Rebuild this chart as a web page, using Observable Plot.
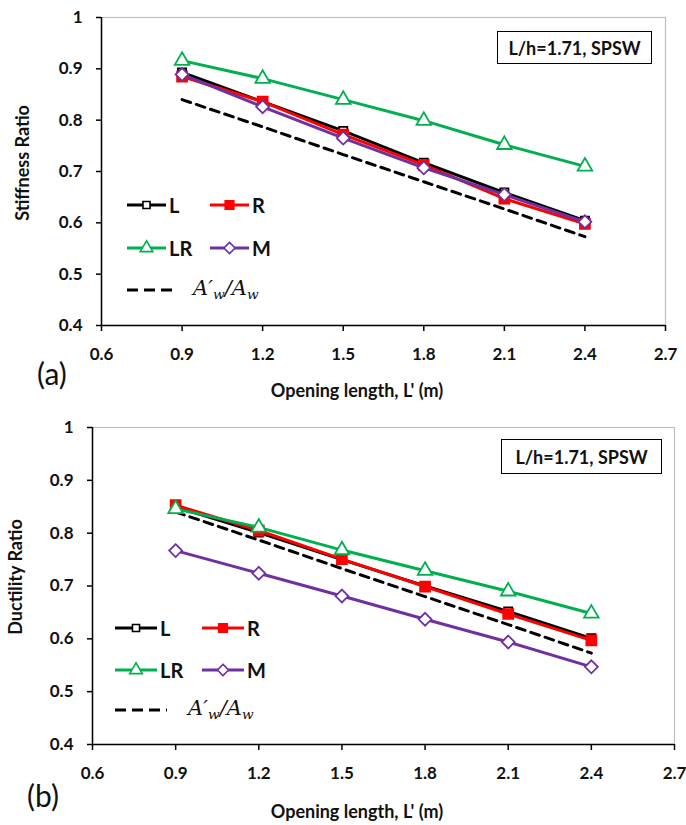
<!DOCTYPE html>
<html>
<head>
<meta charset="utf-8">
<script src="https://cdn.jsdelivr.net/npm/d3@7"></script>
<script src="https://cdn.jsdelivr.net/npm/@observablehq/plot@0.6"></script>
<style>
  body { margin: 0; background: #fff; }
  #root { position: relative; width: 686px; height: 825px; overflow: hidden; font-family: Lato, "Open Sans", sans-serif; }
  .abs { position: absolute; }
  .svgwrap { position: absolute; left: 0; }
  .title { font-weight: bold; font-size: 18px; color: #111; white-space: nowrap; line-height: 1; }
  .panel { font-size: 30px; color: #111; line-height: 1; }
  .box { border: 1.5px solid #000; background: #fff; font-weight: bold; font-size: 18px; display: flex; align-items: center; justify-content: center; color: #111; box-sizing: border-box; white-space: nowrap; }
  .legtxt { font-weight: bold; font-size: 20px; color: #111; line-height: 1; }
  .formula { font-family: "DejaVu Serif", "Liberation Serif", serif; font-style: italic; font-size: 21px; color: #111; white-space: nowrap; line-height: 1; }
  .formula sub { font-size: 0.65em; vertical-align: -0.3em; }
</style>
</head>
<body>
<div id="root"></div>
<script>
// ---------- data ----------
const openingLength = [0.9, 1.2, 1.5, 1.8, 2.1, 2.4];
const xTicks = [0.6, 0.9, 1.2, 1.5, 1.8, 2.1, 2.4, 2.7];
const xTickLabels = ["0.6", "0.9", "1.2", "1.5", "1.8", "2.1", "2.4", "2.7"];
const yTicks = [0.4, 0.5, 0.6, 0.7, 0.8, 0.9, 1.0];
const yTickLabels = ["0.4", "0.5", "0.6", "0.7", "0.8", "0.9", "1"];

// (a) stiffness ratio
const stiffL  = [0.893, 0.836, 0.779, 0.717, 0.659, 0.604];
const stiffR  = [0.885, 0.836, 0.772, 0.713, 0.647, 0.598];
const stiffLR = [0.916, 0.881, 0.840, 0.799, 0.752, 0.710];
const stiffM  = [0.889, 0.826, 0.765, 0.707, 0.655, 0.602];
// (b) ductility ratio
const ductL  = [0.850, 0.801, 0.750, 0.700, 0.652, 0.601];
const ductR  = [0.853, 0.805, 0.751, 0.699, 0.647, 0.597];
const ductLR = [0.846, 0.811, 0.768, 0.729, 0.690, 0.648];
const ductM  = [0.767, 0.724, 0.681, 0.637, 0.594, 0.547];
// A'w/Aw (same in both panels)
const areaRatio = [0.840, 0.787, 0.733, 0.680, 0.627, 0.573];

const seriesNames = ["L", "R", "LR", "M"];
const seriesColors = { L: "#000000", R: "#ff0000", LR: "#00b050", M: "#7030a0" };
const seriesSymbols = { L: "square", R: "square", LR: "triangle", M: "diamond2" };
const d3Symbols = { square: d3.symbolSquare, triangle: d3.symbolTriangle, diamond2: d3.symbolDiamond2 };
const seriesFill = { L: "white", R: "#ff0000", LR: "white", M: "white" };
const seriesR = { L: 4.6, R: 5.6, LR: 5.4, M: 5.8 };

const root = document.getElementById("root");

function rows(vals) { return openingLength.map((x, i) => ({ x, y: vals[i] })); }

function panel({ top, height, mt, mb, ml, mr, values }) {
  const marks = [
    Plot.frame({ stroke: "#bfbfbf", strokeWidth: 1.2 }),
    Plot.line(rows(areaRatio), { x: "x", y: "y", stroke: "#000", strokeWidth: 3, strokeDasharray: "9,6" })
  ];
  for (const s of seriesNames) {
    const d = rows(values[s]);
    marks.push(Plot.line(d, { x: "x", y: "y", stroke: seriesColors[s], strokeWidth: 3 }));
    marks.push(Plot.dot(d, { x: "x", y: "y", symbol: seriesSymbols[s], r: seriesR[s], stroke: seriesColors[s], fill: seriesFill[s], strokeWidth: 1.8 }));
  }
  marks.push(
    Plot.ruleX([0.6], { stroke: "#000", strokeWidth: 1.5 }),
    Plot.ruleY([0.4], { stroke: "#000", strokeWidth: 1.5 }),
    Plot.axisY({ ticks: yTicks, tickFormat: d => yTickLabels[yTicks.indexOf(d)], tickSize: 5, tickPadding: 14, stroke: "#000", strokeWidth: 1.5, label: null }),
    Plot.axisX({ ticks: xTicks, tickFormat: d => xTickLabels[xTicks.indexOf(d)], tickSize: 6, tickPadding: 16, stroke: "#000", strokeWidth: 1.5, label: null })
  );
  const svg = Plot.plot({
    width: 686, height,
    marginTop: mt, marginBottom: mb, marginLeft: ml, marginRight: mr,
    x: { domain: [0.6, 2.7] },
    y: { domain: [0.4, 1.0] },
    style: { fontFamily: "Lato, 'Open Sans', sans-serif", fontSize: "17px", fontWeight: "bold", color: "#111", background: "transparent" },
    marks
  });
  const wrap = document.createElement("div");
  wrap.className = "svgwrap";
  wrap.style.top = top + "px";
  wrap.appendChild(svg);
  root.appendChild(wrap);
}

panel({ top: 0, height: 400, mt: 17, mb: 75, ml: 101, mr: 21,
        values: { L: stiffL, R: stiffR, LR: stiffLR, M: stiffM } });
panel({ top: 400, height: 425, mt: 27, mb: 81, ml: 92, mr: 12,
        values: { L: ductL, R: ductR, LR: ductLR, M: ductM } });

function addDiv(cls, html, css) {
  const d = document.createElement("div");
  d.className = "abs " + cls;
  d.innerHTML = html;
  Object.assign(d.style, css);
  root.appendChild(d);
  return d;
}

// axis titles
addDiv("title", "Opening length, L' (m)", { left: "357px", top: "390px", transform: "translate(-50%,-50%)" });
addDiv("title", "Opening length, L' (m)", { left: "357px", top: "811px", transform: "translate(-50%,-50%)" });
addDiv("title", "Stiffness Ratio", { left: "22px", top: "163px", transform: "translate(-50%,-50%) rotate(-90deg)" });
addDiv("title", "Ductility Ratio", { left: "15px", top: "577px", transform: "translate(-50%,-50%) rotate(-90deg)" });
addDiv("panel", "(a)", { left: "37px", top: "358px" });
addDiv("panel", "(b)", { left: "27px", top: "780px" });

// info boxes
addDiv("box", "L/h=1.71, SPSW", { left: "497px", top: "31px", width: "155px", height: "33px" });
addDiv("box", "L/h=1.71, SPSW", { left: "501px", top: "439px", width: "161px", height: "35px" });

// legends
function swatch(s, w) {
  const c = seriesColors[s];
  const sym = d3.symbol().type(d3Symbols[seriesSymbols[s]]).size(Math.PI * seriesR[s] * seriesR[s] * 0.75)();
  return `<svg width="${w}" height="18" style="display:block"><line x1="0" x2="${w}" y1="9" y2="9" stroke="${c}" stroke-width="3"/>` +
         `<path d="${sym}" transform="translate(${w/2},9)" fill="${seriesFill[s]}" stroke="${c}" stroke-width="1.6"/></svg>`;
}
const formulaHTML = `A′<sub>w</sub>/A<sub>w</sub>`;

function legend(x0, x1, rowYs, swW, dashW, fx) {
  const pos = [["L", x0, rowYs[0]], ["R", x1, rowYs[0]], ["LR", x0, rowYs[1]], ["M", x1, rowYs[1]]];
  for (const [s, x, y] of pos) {
    addDiv("", swatch(s, swW), { left: x + "px", top: (y - 9) + "px" });
    addDiv("legtxt", s, { left: (x + swW + 3) + "px", top: (y - 10) + "px" });
  }
  addDiv("", `<svg width="${dashW}" height="6" style="display:block"><line x1="0" x2="${dashW}" y1="3" y2="3" stroke="#000" stroke-width="3" stroke-dasharray="11,6"/></svg>`,
         { left: x0 + "px", top: (rowYs[2] - 3) + "px" });
  addDiv("formula", formulaHTML, { left: fx + "px", top: (rowYs[2] - 12) + "px" });
}
legend(127, 210, [205, 248, 290], 39, 50, 193);
legend(115, 202, [628, 670, 710], 42, 52, 188);
</script>
</body>
</html>
